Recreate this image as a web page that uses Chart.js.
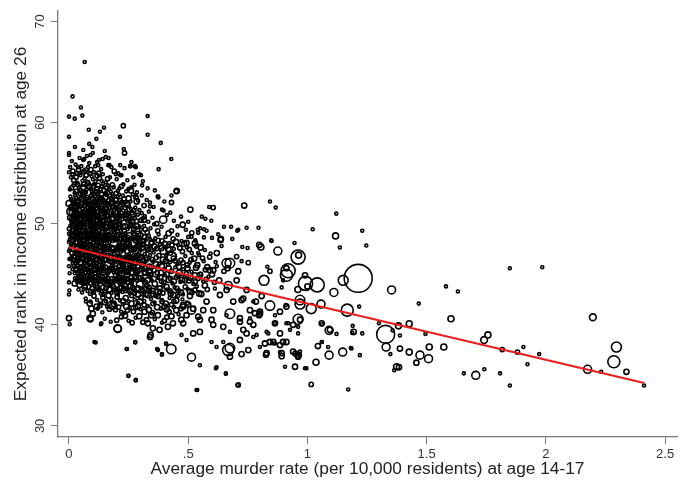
<!DOCTYPE html>
<html><head><meta charset="utf-8">
<script src="https://cdn.jsdelivr.net/npm/chart.js@4/dist/chart.umd.min.js"></script>
<style>html,body{margin:0;padding:0;background:#fff}#c{display:block}</style>
</head><body>
<canvas id="c" width="691" height="482"></canvas>
<script>
// Axis ticks and titles
const xTicks = [0, 0.5, 1, 1.5, 2, 2.5];
const xTickLabels = ['0', '.5', '1', '1.5', '2', '2.5'];
const yTicks = [30, 40, 50, 60, 70];
const yTickLabels = ['30', '40', '50', '60', '70'];
const xTitle = 'Average murder rate (per 10,000 residents) at age 14-17';
const yTitle = 'Expected rank in income distribution at age 26';

// Fitted line (end points)
const fitMurderRate = [0, 2.412];
const fitRank = [47.67, 34.24];

// Counties: [murder rate, expected rank, population weight]
const countiesTop = [
[0.066,66.0,1],[0.015,62.6,1],[0.05,61.5,1],[0.0,60.6,1],[0.024,60.4,1],[0.056,60.7,1],[0.33,60.65,1],[0.228,59.7,2],[0.083,59.3,1],[0.147,59.5,1],
[0.13,59.1,1],[0.0,58.6,1],[0.115,58.4,1],[0.214,58.6,1],[0.33,58.8,1],[0.385,58.0,1],[0.085,57.9,1],[0.098,57.6,1],[0.025,57.6,1],[0.06,57.3,1],
[0.23,57.4,1],[0.233,57.0,2],[0.0,57.0,1],[0.0,56.8,1],[0.429,56.4,1],[0.075,56.7,1],[0.064,56.4,1],[0.154,56.6,1],[0.126,56.3,1],[0.259,55.7,1],
[0.277,55.7,1],[0.215,55.8,1],[0.17,55.8,1],[0.376,55.4,1],[0.0,55.1,1],[0.033,55.0,1],[0.046,55.0,1],[0.207,55.0,1],[0.22,54.8,1],[0.295,54.9,1],
[0.43,52.8,1],[0.45,53.2,2],[0.43,52.1,2],[0.374,52.7,1],[0.307,53.8,1],[0.283,52.6,1],[0.509,51.4,3],[0.588,51.65,1],[0.605,51.6,2],[0.735,51.8,3],
[0.557,50.7,1],[0.572,50.5,1],[0.597,50.3,1],[0.54,49.4,1],[0.567,49.45,1],[0.65,49.7,1],[0.68,49.7,1],[0.71,49.4,1],[0.745,49.6,1],[0.637,48.5,3],
[0.685,48.5,1],[0.477,49.9,3],[0.397,51.3,1],[0.34,51.7,1],[0.314,50.4,3],[0.395,50.4,6],[0.418,49.05,3],[0.141,56.4,1],[0.166,56.5,1],[0.09,56.8,1],
[0.06,56.3,1],[0.085,56.0,1],[0.123,55.8,1],[0.165,55.8,1],[0.28,55.6,1],[0.256,55.7,1],[0.197,54.9,1],[0.302,54.8,1],[0.26,53.3,3],[0.452,53.25,3],
[0.326,52.35,1],[0.372,52.7,1],[0.284,52.2,3],[0.0,52.0,4],[0.01,51.2,9],[0.025,50.85,6]
];

const countiesHigh = [
[0.012,56.2,1],[0.038,55.6,1],[0.07,55.3,2],[0.105,55.1,1],[0.118,56.1,1],[0.135,55.4,1],[0.178,55.6,1],[0.19,55.2,2],[0.233,55.5,1],[0.262,56.1,1],
[0.045,56.5,1],[0.1,57.0,1],[0.15,57.2,1],
[0.008,54.6,1],[0.02,54.3,2],[0.048,54.8,1],[0.066,54.5,1],[0.078,54.1,2],[0.095,54.7,1],[0.112,54.2,1],[0.128,54.5,2],[0.142,54.9,1],[0.155,54.1,1],
[0.172,54.6,1],[0.2,54.4,1],[0.215,54.8,1],[0.245,54.3,1],[0.27,54.6,1],[0.31,54.2,1],[0.088,54.95,1],[0.035,54.05,1],
[0.004,53.4,1],[0.018,53.8,1],[0.03,53.2,2],[0.042,53.6,1],[0.055,53.1,1],[0.062,53.9,2],[0.074,53.4,1],[0.085,53.7,3],[0.096,53.2,1],[0.105,53.9,1],
[0.117,53.5,2],[0.125,53.1,1],[0.138,53.7,1],[0.148,53.3,2],[0.163,53.8,1],[0.175,53.2,1],[0.188,53.6,1],[0.198,53.0,2],[0.212,53.5,1],[0.228,53.9,1],
[0.24,53.2,1],[0.262,53.6,1],[0.285,53.1,1],[0.33,53.5,1],[0.36,53.3,1],[0.098,53.0,1],[0.068,53.05,1],[0.155,53.05,1],
[0.006,52.7,1],[0.015,52.3,2],[0.026,52.8,1],[0.036,52.1,3],[0.047,52.5,1],[0.058,52.9,2],[0.064,52.2,1],[0.076,52.6,2],[0.083,52.05,1],[0.092,52.8,1],
[0.101,52.35,3],[0.11,52.7,1],[0.119,52.1,2],[0.127,52.5,1],[0.136,52.9,2],[0.145,52.2,1],[0.153,52.6,3],[0.162,52.05,1],[0.171,52.8,1],[0.18,52.4,2],
[0.192,52.1,1],[0.204,52.7,1],[0.215,52.3,2],[0.226,52.8,1],[0.238,52.15,1],[0.25,52.5,3],[0.268,52.9,1],[0.29,52.3,1],[0.305,52.8,1],[0.34,52.1,1],
[0.375,52.6,1],[0.4,52.2,1],[0.045,52.95,1],[0.122,52.95,1],[0.185,52.95,1],
[0.005,55.6,1],[0.016,55.2,2],[0.028,55.85,1],[0.04,55.35,2],[0.052,55.7,1],[0.063,55.15,2],[0.08,55.6,1],[0.092,55.35,2],[0.11,55.7,1],[0.125,55.0,2],
[0.015,54.9,1],[0.03,54.6,2],[0.057,54.25,1],[0.072,54.8,2],[0.1,54.4,1],[0.118,54.75,2],[0.137,54.25,1],[0.162,54.45,2]
];

const countiesCoreUpper = [
[0.004,51.5,1],[0.012,51.1,3],[0.022,51.8,1],[0.03,51.3,2],[0.04,51.7,1],[0.05,51.05,2],[0.057,51.5,1],[0.066,51.85,3],[0.073,51.2,1],[0.081,51.6,2],
[0.088,51.1,1],[0.096,51.75,1],[0.103,51.35,2],[0.111,51.9,1],[0.118,51.15,3],[0.126,51.6,1],[0.133,51.3,2],[0.141,51.8,1],[0.149,51.05,1],[0.157,51.5,2],
[0.165,51.85,1],[0.173,51.2,3],[0.181,51.65,1],[0.19,51.3,1],[0.199,51.8,2],[0.209,51.1,1],[0.219,51.55,1],[0.229,51.9,2],[0.24,51.25,1],[0.252,51.7,1],
[0.265,51.1,2],[0.278,51.6,1],[0.295,51.35,1],[0.315,51.8,2],[0.335,51.2,1],[0.355,51.65,1],[0.39,51.4,1],[0.425,51.1,1],[0.016,51.95,1],[0.094,51.45,1],
[0.145,51.45,1],[0.2,51.45,1],[0.26,51.45,1],
[0.003,50.6,2],[0.01,50.2,1],[0.019,50.8,2],[0.027,50.35,1],[0.034,50.9,3],[0.042,50.1,1],[0.049,50.55,2],[0.056,50.95,1],[0.063,50.3,1],[0.07,50.7,3],
[0.077,50.15,1],[0.084,50.5,2],[0.091,50.9,1],[0.098,50.25,1],[0.105,50.65,2],[0.112,50.05,1],[0.119,50.45,3],[0.126,50.85,1],[0.133,50.2,1],[0.14,50.6,2],
[0.148,50.95,1],[0.156,50.35,1],[0.164,50.75,2],[0.172,50.1,1],[0.18,50.5,3],[0.188,50.9,1],[0.197,50.25,1],[0.206,50.65,2],[0.215,50.1,1],[0.224,50.45,1],
[0.233,50.85,2],[0.243,50.3,1],[0.254,50.7,1],[0.265,50.15,3],[0.277,50.55,1],[0.289,50.9,1],[0.302,50.35,2],[0.318,50.75,1],[0.333,50.2,1],[0.35,50.6,1],
[0.368,50.0,2],[0.41,50.85,1],[0.44,50.3,1],[0.47,50.7,1],[0.5,50.2,1],[0.06,50.05,1],[0.16,50.0,1],
[0.002,49.5,2],[0.009,49.1,1],[0.017,49.8,3],[0.024,49.3,1],[0.031,49.65,2],[0.038,49.05,1],[0.045,49.45,2],[0.052,49.9,1],[0.059,49.2,3],[0.066,49.6,1],
[0.073,49.0,1],[0.08,49.35,2],[0.087,49.75,1],[0.094,49.15,1],[0.101,49.55,3],[0.108,49.95,1],[0.115,49.25,1],[0.122,49.65,2],[0.129,49.05,1],[0.136,49.45,1],
[0.143,49.85,2],[0.151,49.2,1],[0.159,49.6,3],[0.167,49.0,1],[0.175,49.4,1],[0.183,49.8,2],[0.191,49.15,1],[0.2,49.55,1],[0.209,49.95,2],[0.218,49.3,1],
[0.227,49.7,3],[0.236,49.05,1],[0.246,49.45,1],[0.256,49.85,2],[0.267,49.2,1],[0.278,49.6,1],[0.29,49.0,3],[0.302,49.4,1],[0.315,49.8,1],[0.328,49.15,2],
[0.342,49.55,1],[0.357,49.95,1],[0.372,49.3,2],[0.388,49.7,1],[0.43,49.3,2],[0.455,49.75,1],[0.49,49.4,1],[0.515,49.1,2],[0.55,49.55,1],[0.095,49.45,1],
[0.205,49.25,1]
];

const countiesCoreMiddle = [
[0.003,48.4,1],[0.011,48.8,2],[0.019,48.15,1],[0.027,48.55,3],[0.035,48.95,1],[0.043,48.3,1],[0.05,48.7,2],[0.057,48.05,1],[0.064,48.45,3],[0.071,48.85,1],
[0.078,48.2,1],[0.085,48.6,2],[0.092,48.0,1],[0.099,48.4,1],[0.106,48.8,3],[0.113,48.15,1],[0.12,48.5,2],[0.127,48.9,1],[0.134,48.25,1],[0.141,48.65,2],
[0.148,48.05,1],[0.155,48.45,3],[0.162,48.85,1],[0.17,48.2,1],[0.178,48.6,2],[0.186,48.95,1],[0.194,48.35,1],[0.202,48.75,2],[0.21,48.1,1],[0.219,48.5,3],
[0.228,48.9,1],[0.237,48.25,1],[0.246,48.65,2],[0.256,48.05,1],[0.266,48.45,1],[0.276,48.85,3],[0.287,48.2,1],[0.298,48.6,1],[0.31,48.0,2],[0.322,48.4,1],
[0.335,48.8,1],[0.348,48.15,3],[0.362,48.55,1],[0.376,48.95,1],[0.39,48.3,2],[0.405,48.7,1],[0.42,48.1,1],[0.437,48.5,2],[0.455,48.9,1],[0.472,48.3,1],
[0.5,48.7,1],[0.53,48.35,1],[0.6,48.6,1],[0.16,48.4,1],[0.25,48.4,1],
[0.004,47.5,1],[0.012,47.1,2],[0.02,47.8,1],[0.028,47.3,1],[0.036,47.65,3],[0.044,47.05,1],[0.052,47.45,2],[0.06,47.85,1],[0.068,47.2,1],[0.076,47.6,3],
[0.084,47.0,1],[0.092,47.4,2],[0.1,47.8,1],[0.108,47.15,1],[0.116,47.55,2],[0.124,47.95,1],[0.132,47.3,3],[0.14,47.7,1],[0.148,47.05,1],[0.156,47.45,2],
[0.164,47.85,1],[0.172,47.2,1],[0.18,47.6,3],[0.189,47.0,1],[0.198,47.4,2],[0.207,47.8,1],[0.216,47.15,1],[0.225,47.55,2],[0.234,47.95,1],[0.243,47.3,3],
[0.253,47.7,1],[0.263,47.05,1],[0.273,47.45,2],[0.284,47.85,1],[0.295,47.2,1],[0.306,47.6,3],[0.318,47.0,1],[0.33,47.4,2],[0.342,47.8,1],[0.355,47.15,1],
[0.368,47.55,2],[0.382,47.95,1],[0.396,47.3,5],[0.41,47.7,1],[0.425,47.1,2],[0.44,47.5,1],[0.458,47.9,1],[0.476,47.25,2],[0.495,47.65,1],[0.515,47.1,1],
[0.57,47.4,1],[0.64,47.8,1],[0.11,47.5,1],[0.2,47.5,1],
[0.008,46.5,1],[0.016,46.1,1],[0.025,46.8,2],[0.033,46.35,1],[0.041,46.9,1],[0.049,46.2,3],[0.057,46.6,1],[0.065,46.05,1],[0.073,46.45,2],[0.081,46.85,1],
[0.089,46.25,3],[0.097,46.65,1],[0.105,46.05,1],[0.113,46.5,2],[0.121,46.9,1],[0.129,46.3,1],[0.137,46.7,3],[0.145,46.1,1],[0.153,46.5,2],[0.161,46.9,1],
[0.169,46.25,1],[0.178,46.65,3],[0.187,46.05,1],[0.196,46.45,2],[0.205,46.85,1],[0.214,46.2,1],[0.223,46.6,2],[0.232,46.0,1],[0.241,46.4,3],[0.251,46.8,1],
[0.261,46.15,1],[0.271,46.55,2],[0.282,46.95,1],[0.293,46.3,1],[0.304,46.7,3],[0.316,46.1,1],[0.328,46.5,2],[0.34,46.9,1],[0.353,46.25,1],[0.366,46.65,2],
[0.38,46.05,1],[0.394,46.45,3],[0.408,46.85,1],[0.423,46.2,1],[0.43,46.75,11],[0.438,46.6,2],[0.454,46.0,1],[0.47,46.4,2],[0.488,46.8,1],[0.506,46.15,1],
[0.525,46.55,3],[0.545,46.9,1],[0.565,46.3,1],[0.59,46.7,2],[0.615,46.2,1],[0.14,46.45,1],[0.255,46.45,1]
];

const countiesCoreLower = [
[0.015,45.5,1],[0.024,45.1,1],[0.033,45.8,2],[0.042,45.3,1],[0.05,45.7,3],[0.058,45.05,1],[0.066,45.45,1],[0.074,45.85,2],[0.082,45.2,1],[0.09,45.6,3],
[0.098,45.0,1],[0.106,45.4,2],[0.114,45.8,1],[0.122,45.15,1],[0.13,45.55,3],[0.138,45.95,1],[0.146,45.3,1],[0.154,45.7,2],[0.162,45.05,1],[0.17,45.45,3],
[0.179,45.85,1],[0.188,45.2,1],[0.197,45.6,2],[0.206,45.0,1],[0.215,45.4,3],[0.224,45.8,1],[0.233,45.15,1],[0.243,45.55,2],[0.253,45.95,1],[0.263,45.3,5],
[0.274,45.7,1],[0.285,45.05,1],[0.296,45.45,2],[0.308,45.85,1],[0.32,45.2,3],[0.332,45.6,1],[0.345,45.0,1],[0.358,45.4,2],[0.372,45.8,1],[0.386,45.15,3],
[0.4,45.55,1],[0.415,45.95,1],[0.43,45.3,2],[0.446,45.7,1],[0.462,45.1,4],[0.479,45.5,1],[0.496,45.9,2],[0.514,45.25,1],[0.533,45.65,3],[0.552,45.05,1],
[0.572,45.45,2],[0.62,45.8,1],[0.65,45.3,2],
[0.025,44.6,1],[0.035,44.2,1],[0.045,44.85,2],[0.055,44.4,1],[0.064,44.05,1],[0.072,44.6,3],[0.08,44.25,1],[0.088,44.9,1],[0.096,44.45,2],[0.104,44.1,1],
[0.112,44.7,3],[0.12,44.3,1],[0.128,44.95,1],[0.136,44.5,2],[0.144,44.15,1],[0.152,44.75,3],[0.161,44.35,1],[0.17,44.0,1],[0.179,44.55,2],[0.188,44.2,1],
[0.197,44.85,3],[0.206,44.4,1],[0.215,44.05,1],[0.224,44.65,2],[0.234,44.3,1],[0.244,44.9,3],[0.254,44.45,1],[0.264,44.1,1],[0.275,44.7,2],[0.286,44.35,1],
[0.297,44.0,5],[0.309,44.55,1],[0.321,44.2,2],[0.334,44.8,1],[0.347,44.4,1],[0.36,44.05,3],[0.374,44.65,1],[0.388,44.3,2],[0.403,44.9,1],[0.418,44.45,3],
[0.434,44.1,1],[0.45,44.7,2],[0.467,44.25,1],[0.485,44.85,1],[0.503,44.4,3],[0.522,44.05,1],[0.542,44.6,2],[0.563,44.3,1],[0.585,44.75,1],[0.61,44.2,2],
[0.04,43.5,1],[0.055,43.2,1],[0.068,43.8,2],[0.078,43.35,1],[0.088,43.05,1],[0.097,43.6,2],[0.106,43.25,1],[0.115,43.9,3],[0.124,43.45,1],[0.133,43.1,1],
[0.142,43.7,2],[0.151,43.3,1],[0.16,43.95,1],[0.169,43.5,3],[0.178,43.15,1],[0.187,43.75,2],[0.196,43.4,1],[0.205,43.0,1],[0.215,43.6,3],[0.225,43.25,1],
[0.235,43.85,2],[0.245,43.5,1],[0.256,43.1,1],[0.267,43.7,2],[0.278,43.35,1],[0.29,43.0,3],[0.302,43.6,1],[0.314,43.2,1],[0.327,43.85,2],[0.34,43.45,1],
[0.353,43.05,3],[0.367,43.65,1],[0.381,43.3,2],[0.396,43.9,1],[0.411,43.5,1],[0.427,43.1,3],[0.443,43.7,1],[0.46,43.35,2],[0.478,43.0,1],[0.497,43.55,1],
[0.516,43.2,2],[0.536,43.8,1],
[0.07,42.6,1],[0.09,42.3,1],[0.105,42.85,2],[0.118,42.45,1],[0.13,42.1,1],[0.142,42.7,2],[0.154,42.35,1],[0.166,42.9,3],[0.178,42.55,1],[0.19,42.2,1],
[0.202,42.75,2],[0.214,42.4,1],[0.226,42.05,1],[0.238,42.65,3],[0.25,42.3,1],[0.263,42.9,2],[0.276,42.5,1],[0.289,42.15,1],[0.302,42.7,2],[0.316,42.35,1],
[0.33,42.95,3],[0.344,42.55,1],[0.359,42.2,1],[0.374,42.8,2],[0.39,42.45,1],[0.406,42.1,3],[0.422,42.65,1],[0.44,42.3,2],[0.458,42.85,1],[0.476,42.5,1],
[0.495,42.15,2],
[0.12,41.6,1],[0.14,41.25,1],[0.16,41.8,1],[0.195,41.5,2],[0.23,41.15,1],[0.255,41.65,1],[0.27,41.3,2],[0.3,41.55,1],[0.33,41.85,1],[0.35,41.2,2],
[0.385,41.6,1],[0.42,41.3,2],[0.44,41.75,1],[0.46,41.05,1],
[0.15,40.6,1],[0.175,40.3,1],[0.22,40.8,2],[0.25,40.4,1],[0.28,40.7,1],[0.31,40.25,2],[0.36,40.55,1],[0.39,40.2,1],[0.41,40.75,2],
[0.0,49.0,1],[0.0,48.2,1],[0.0,47.3,1],[0.002,46.5,1],[0.0,45.8,1],[0.003,45.1,1],[0.0,44.2,1],[0.002,43.4,1]
];

const countiesCoreExtra = [
[0.011,53.55,2],[0.024,53.05,1],[0.037,53.85,2],[0.049,53.35,1],[0.06,53.6,3],[0.071,53.15,1],[0.081,53.95,2],[0.091,53.45,1],[0.102,53.7,2],[0.113,53.25,1],
[0.122,53.8,2],[0.133,53.4,1],[0.143,53.95,1],[0.158,53.55,2],[0.169,53.4,1],[0.182,53.85,2],[0.205,53.25,1],[0.22,53.7,2],[0.25,53.45,1],[0.275,53.85,1],
[0.009,52.45,1],[0.021,52.05,2],[0.031,52.6,1],[0.041,52.25,2],[0.053,52.75,1],[0.07,52.35,3],[0.087,52.55,1],[0.097,52.1,2],[0.106,52.95,1],[0.114,52.4,2],
[0.131,52.65,1],[0.14,52.4,2],[0.158,52.85,1],[0.167,52.3,2],[0.186,52.65,1],[0.197,52.35,2],[0.21,52.9,1],[0.232,52.45,2],[0.258,52.2,1],[0.28,52.65,2],
[0.008,51.7,2],[0.018,51.35,1],[0.026,51.05,2],[0.035,51.55,1],[0.045,51.3,2],[0.053,51.75,1],[0.062,51.1,2],[0.069,51.45,1],[0.077,51.95,2],[0.085,51.35,1],
[0.092,51.05,2],[0.1,51.6,1],[0.107,51.15,2],[0.115,51.5,1],[0.122,51.85,2],[0.129,51.1,1],[0.137,51.55,2],[0.153,51.25,1],[0.169,51.55,2],[0.185,51.0,1],
[0.195,51.6,2],[0.213,51.35,1],[0.235,51.6,2],[0.247,51.05,1],[0.272,51.3,2],[0.305,51.05,1],
[0.007,50.45,1],[0.015,50.05,2],[0.023,50.6,1],[0.031,50.15,2],[0.038,50.7,1],[0.046,50.35,2],[0.053,50.15,1],[0.059,50.8,2],[0.066,50.5,1],[0.074,50.9,2],
[0.081,50.3,1],[0.088,50.7,2],[0.095,50.05,1],[0.102,50.45,2],[0.109,50.85,1],[0.116,50.25,2],[0.123,50.65,1],[0.13,50.45,2],[0.137,50.05,1],[0.145,50.35,2],
[0.152,50.75,1],[0.168,50.45,2],[0.185,50.2,1],[0.202,50.5,2],[0.219,50.8,1],[0.238,50.55,2],[0.26,50.45,1],[0.283,50.25,2],[0.31,50.55,1],
[0.006,49.8,1],[0.013,49.35,2],[0.02,49.05,1],[0.028,49.5,2],[0.035,49.85,1],[0.042,49.25,2],[0.049,49.7,1],[0.056,49.4,2],[0.063,49.9,1],[0.07,49.3,2],
[0.077,49.65,1],[0.084,49.05,2],[0.091,49.55,1],[0.098,49.85,2],[0.105,49.2,1],[0.112,49.6,2],[0.119,49.95,1],[0.126,49.35,2],[0.133,49.75,1],[0.14,49.15,2],
[0.155,49.45,1],[0.171,49.7,2],[0.187,49.35,1],[0.196,49.85,2],[0.214,49.6,1],[0.232,49.3,2],[0.251,49.65,1],[0.272,49.45,2],[0.296,49.7,1],[0.32,49.45,2],
[0.007,48.65,1],[0.015,48.35,2],[0.023,48.95,1],[0.031,48.2,2],[0.039,48.6,1],[0.047,48.05,2],[0.054,48.5,1],[0.061,48.8,2],[0.068,48.15,1],[0.075,48.55,2],
[0.082,48.9,1],[0.089,48.3,2],[0.096,48.7,1],[0.103,48.1,2],[0.11,48.55,1],[0.117,48.95,2],[0.124,48.35,1],[0.131,48.75,2],[0.138,48.05,1],[0.145,48.45,2],
[0.152,48.8,1],[0.166,48.5,2],[0.182,48.3,1],[0.198,48.55,2],[0.215,48.8,1],[0.232,48.45,2],[0.251,48.3,1],[0.271,48.65,2],[0.293,48.4,1],[0.316,48.7,2],
[0.341,48.45,1],
[0.008,47.85,1],[0.016,47.45,2],[0.024,47.05,1],[0.032,47.6,2],[0.04,47.25,1],[0.048,47.85,2],[0.056,47.15,1],[0.064,47.55,2],[0.072,47.9,1],[0.08,47.3,2],
[0.088,47.75,1],[0.096,47.1,2],[0.104,47.45,1],[0.112,47.85,2],[0.12,47.25,1],[0.128,47.65,2],[0.136,47.05,1],[0.144,47.4,2],[0.152,47.75,1],[0.168,47.5,2],
[0.185,47.3,1],[0.203,47.6,2],[0.22,47.35,1],[0.238,47.7,2],[0.258,47.4,1],[0.279,47.6,2],[0.3,47.4,1],[0.324,47.7,2],[0.348,47.35,1],
[0.012,46.75,1],[0.02,46.4,2],[0.029,46.05,1],[0.037,46.6,2],[0.045,46.45,1],[0.053,46.9,2],[0.061,46.3,1],[0.069,46.75,2],[0.077,46.15,1],[0.085,46.55,2],
[0.093,46.9,1],[0.101,46.35,2],[0.109,46.75,1],[0.117,46.15,2],[0.125,46.55,1],[0.133,46.9,2],[0.141,46.35,1],[0.149,46.8,2],[0.165,46.45,1],[0.182,46.3,2],
[0.2,46.6,1],[0.218,46.4,2],[0.236,46.75,1],[0.256,46.3,2],[0.276,46.7,1],[0.298,46.5,2],[0.322,46.3,1],
[0.019,45.85,1],[0.028,45.45,2],[0.037,45.05,1],[0.046,45.55,2],[0.054,45.3,1],[0.062,45.75,2],[0.07,45.15,1],[0.078,45.5,2],[0.086,45.9,1],[0.094,45.35,2],
[0.102,45.7,1],[0.11,45.1,2],[0.118,45.5,1],[0.126,45.9,2],[0.134,45.3,1],[0.142,45.65,2],[0.158,45.35,1],[0.175,45.6,2],[0.192,45.4,1],[0.21,45.75,2],
[0.228,45.5,1],[0.248,45.25,2],[0.268,45.55,1],[0.29,45.75,2],[0.314,45.45,1],[0.338,45.25,2],
[0.03,44.4,1],[0.04,44.7,2],[0.05,44.15,1],[0.06,44.65,2],[0.068,44.3,1],[0.076,44.85,2],[0.084,44.5,1],[0.092,44.15,2],[0.1,44.75,1],[0.108,44.45,2],
[0.116,44.05,1],[0.124,44.6,2],[0.132,44.25,1],[0.14,44.8,2],[0.156,44.5,1],[0.174,44.25,2],[0.192,44.6,1],[0.21,44.25,2],[0.229,44.5,1],[0.249,44.2,2],
[0.27,44.45,1],[0.292,44.7,2],[0.315,44.4,1],
[0.062,43.55,1],[0.083,43.75,2],[0.101,43.35,1],[0.119,43.65,2],[0.137,43.3,1],[0.155,43.6,2],[0.173,43.85,1],[0.191,43.55,2],[0.21,43.3,1],[0.23,43.6,2],
[0.25,43.3,1],[0.272,43.55,2],[0.296,43.3,1],[0.32,43.6,2]
];

const countiesCoreDense = [
[0.034,52.2,2],[0.052,51.9,3],[0.071,52.15,2],[0.089,51.85,3],[0.108,52.2,2],[0.126,51.95,3],[0.144,52.25,2],[0.162,51.9,3],[0.18,52.15,2],[0.2,51.95,3],
[0.222,52.1,2],[0.245,51.85,3],
[0.028,51.0,3],[0.047,50.75,2],[0.066,51.05,3],[0.084,50.8,2],[0.103,51.0,3],[0.121,50.75,2],[0.14,51.05,3],[0.158,50.8,2],[0.177,50.95,3],[0.196,50.75,2],
[0.218,51.0,3],[0.242,50.8,2],[0.268,50.95,3],
[0.022,49.95,2],[0.041,49.7,3],[0.06,50.0,2],[0.079,49.75,3],[0.098,50.0,2],[0.117,49.75,3],[0.136,49.95,2],[0.155,49.7,3],[0.174,49.95,2],[0.193,49.7,3],
[0.213,49.95,2],[0.236,49.75,3],[0.26,49.95,2],[0.285,49.75,3],
[0.018,48.85,3],[0.037,48.6,2],[0.056,48.85,3],[0.075,48.6,2],[0.094,48.85,3],[0.113,48.6,2],[0.132,48.85,3],[0.151,48.6,2],[0.17,48.85,3],[0.189,48.6,2],
[0.209,48.85,3],[0.23,48.6,2],[0.252,48.85,3],[0.276,48.6,2],[0.3,48.85,3],
[0.016,47.75,2],[0.035,47.5,3],[0.054,47.75,2],[0.073,47.5,3],[0.092,47.75,2],[0.111,47.5,3],[0.13,47.75,2],[0.149,47.5,3],[0.168,47.75,2],[0.187,47.5,3],
[0.207,47.75,2],[0.228,47.5,3],[0.25,47.75,2],[0.272,47.5,3],[0.296,47.75,2],
[0.02,46.65,3],[0.039,46.4,2],[0.058,46.65,3],[0.077,46.4,2],[0.096,46.65,3],[0.115,46.4,2],[0.134,46.65,3],[0.153,46.4,2],[0.172,46.65,3],[0.191,46.4,2],
[0.211,46.65,3],[0.232,46.4,2],[0.254,46.65,3],[0.277,46.4,2],[0.3,46.65,3],
[0.03,45.55,2],[0.049,45.3,3],[0.068,45.55,2],[0.087,45.3,3],[0.106,45.55,2],[0.125,45.3,3],[0.144,45.55,2],[0.163,45.3,3],[0.182,45.55,2],[0.201,45.3,3],
[0.221,45.55,2],[0.242,45.3,3],[0.264,45.55,2],[0.287,45.3,3],
[0.048,44.55,3],[0.067,44.3,2],[0.086,44.55,3],[0.105,44.3,2],[0.124,44.55,3],[0.143,44.3,2],[0.162,44.55,3],[0.181,44.3,2],[0.2,44.55,3],[0.22,44.3,2],
[0.241,44.55,3],[0.262,44.3,2]
];

const countiesMidExtra = [
[0.212,48.2,2],[0.229,47.75,3],[0.247,48.1,2],[0.262,47.55,3],[0.28,48.3,2],[0.296,47.85,3],[0.313,48.25,2],[0.329,47.6,3],[0.345,48.1,2],[0.359,47.75,3],
[0.374,48.35,2],[0.388,47.6,3],[0.402,48.05,2],[0.417,47.45,3],[0.432,47.9,2],[0.449,48.2,3],[0.465,47.6,2],[0.483,48.0,3],[0.505,47.45,2],[0.535,47.8,2],
[0.208,46.3,3],[0.226,45.9,2],[0.244,46.6,3],[0.259,45.7,2],[0.277,46.2,3],[0.291,46.85,2],[0.309,45.95,3],[0.323,46.65,2],[0.337,45.75,3],[0.35,46.45,2],
[0.364,46.0,3],[0.377,46.85,2],[0.39,45.8,3],[0.404,46.3,2],[0.418,45.6,3],[0.445,46.35,2],[0.461,45.75,3],[0.478,46.15,2],[0.497,45.6,3],[0.512,46.45,2],
[0.538,45.9,3],[0.56,46.6,2],[0.58,45.7,3],
[0.212,45.05,2],[0.23,44.55,3],[0.248,45.2,2],[0.262,44.65,3],[0.28,45.15,2],[0.3,44.6,3],[0.316,45.1,2],[0.33,44.4,3],[0.343,44.95,2],[0.356,44.55,3],
[0.37,45.15,2],[0.383,44.7,3],[0.397,44.2,2],[0.41,45.0,3],[0.425,44.6,2],[0.44,44.3,3],[0.457,44.85,2],[0.474,44.45,3],[0.492,45.05,2],[0.51,44.65,3],
[0.53,44.25,2],[0.55,44.95,3],[0.575,44.5,2],[0.6,45.0,3],
[0.2,43.2,2],[0.22,43.75,3],[0.238,43.4,2],[0.258,43.85,3],[0.274,43.15,2],[0.29,43.6,3],[0.308,43.4,2],[0.322,43.05,3],[0.336,43.7,2],[0.35,43.35,3],
[0.365,42.9,2],[0.38,43.6,3],[0.394,43.15,2],[0.409,43.75,3],[0.424,43.35,2],[0.438,42.95,3],[0.453,43.6,2],[0.47,43.2,3],[0.488,43.75,2],[0.507,42.85,3],
[0.528,43.45,2],[0.555,43.05,3],[0.58,43.5,2],
[0.13,41.9,2],[0.15,42.25,3],[0.17,41.55,2],[0.188,42.05,3],[0.208,41.75,2],[0.227,42.35,3],[0.245,41.45,2],[0.262,42.1,3],[0.28,41.7,2],[0.298,42.3,3],
[0.316,41.95,2],[0.335,41.5,3],[0.352,42.1,2],[0.37,41.75,3],[0.39,42.3,2],[0.41,41.55,3],[0.43,42.0,2],[0.45,42.4,3],[0.47,41.6,2],[0.5,42.0,3],
[0.2,40.45,2],[0.235,40.9,3],[0.265,40.2,2],[0.295,40.85,3],[0.325,40.5,2],[0.345,40.95,3],[0.4,40.4,2],[0.43,40.85,3]
];

const countiesBelow = [
[0.0,40.65,3],[0.003,40.05,1],[0.0,43.0,1],[0.107,38.3,1],[0.09,40.55,3],[0.136,40.15,1],[0.205,39.6,6],[0.278,38.3,1],[0.243,37.6,1],[0.25,34.95,1],
[0.28,34.55,1],[0.343,39.0,3],[0.373,37.5,1],[0.429,37.6,10],[0.39,37.1,1],[0.408,38.1,1],[0.024,44.1,3],[0.045,43.95,3],[0.059,44.1,1],[0.087,42.1,3],
[0.094,41.6,3],[0.1,41.1,3],[0.143,42.95,1],[0.177,41.95,6],[0.219,41.3,1],[0.24,41.8,3],[0.289,41.8,3],[0.317,41.3,3],[0.331,40.15,3],[0.352,39.65,3],
[0.38,39.5,3],[0.415,39.8,3],[0.436,40.15,3],[0.471,40.5,3],[0.401,41.8,3],[0.373,40.95,3],[0.45,41.45,3],[0.478,41.95,3],[0.071,42.3,1],[0.116,41.8,3],
[0.186,41.9,6],[0.134,40.05,1],[0.37,37.6,1],[0.514,36.8,7],[0.549,36.0,1],[0.616,35.7,1],[0.658,35.2,1],[0.535,33.55,1],[0.71,34.05,2],[0.668,37.5,14]
];

const countiesTail = [
[0.542,49.1,1],[0.577,49.3,1],[0.626,48.95,1],[0.636,48.4,3],[0.706,49.3,1],[0.566,48.65,1],[0.514,48.7,1],[0.493,48.1,3],[0.528,48.05,3],[0.552,47.65,3],
[0.594,47.05,1],[0.727,47.7,1],[0.749,47.6,1],[0.798,47.9,3],[0.85,48.3,1],[0.675,46.1,10],[0.703,46.75,2],[0.724,46.3,1],[0.665,45.6,3],[0.71,45.3,3],
[0.752,46.15,2],[0.832,45.75,1],[0.843,45.3,2],[0.912,45.6,3],[0.99,44.9,3],[1.0,43.8,3],[0.892,43.7,1],[0.898,44.4,1],[0.96,43.5,4],[0.969,42.45,10],
[0.843,41.9,10],[0.808,42.85,3],[0.784,42.3,3],[0.759,41.45,3],[0.78,41.15,3],[0.797,40.95,3],[0.885,41.3,3],[0.91,41.95,1],[0.745,43.45,3],[0.731,42.6,3],
[0.661,43.45,3],[0.633,42.95,3],[0.689,42.3,3],[0.605,41.45,3],[0.661,40.95,1],[0.577,42.3,3],[0.546,43.1,3],[0.507,43.3,3],[0.486,44.4,3],[0.528,44.9,3],
[0.591,45.4,3],[0.63,44.4,3],[0.57,43.9,3],[0.612,43.6,1],[0.703,44.4,3],[0.668,43.9,7],[0.521,41.6,3],[0.493,40.95,3],[0.549,40.5,3],[0.598,40.5,3],
[0.717,40.3,3],[0.773,40.0,3],[0.864,40.15,3],[0.94,40.0,3],[0.542,47.1,1],[0.62,47.1,3],[0.661,46.1,9],[0.605,45.4,3],[0.43,46.75,9],
[0.675,36.85,3],[0.724,37.1,3],[0.752,37.5,3],[0.801,37.8,1],[0.822,38.15,3],[0.843,38.3,3],[0.864,38.15,1],[0.885,38.0,3],[0.912,38.3,3],[0.885,37.3,1],
[0.892,36.9,3],[0.95,37.15,3],[0.961,36.85,3],[0.969,37.35,1],[0.906,35.85,1],[0.948,35.85,3],[0.99,35.7,1],[0.826,37.05,3],[0.619,37.8,1],[0.598,38.3,1],
[0.647,38.3,1],[0.493,38.5,1],[0.472,39.0,1],[0.717,38.5,3],[0.745,39.15,3],[0.787,39.0,1],[0.836,39.15,1],[0.885,39.15,3],[0.92,40.15,1],[0.961,39.8,1],
[0.961,39.15,1],[0.605,40.0,3],[0.647,39.8,3],[0.675,39.3,1],[0.549,39.3,3],[0.521,39.15,3],[0.479,40.15,3],[0.542,40.8,3],[0.563,41.45,3],[0.675,41.1,10],
[0.717,40.65,3],[0.759,40.3,3],[0.801,41.1,3],[0.864,40.95,1],[0.912,41.8,3],[0.479,41.8,3],[0.514,41.45,7],[0.724,42.45,3],[0.773,42.3,1],[0.801,41.3,3],
[0.759,40.65,1],[0.731,39.5,3],[0.773,38.8,1],[0.829,39.3,1],[0.857,38.3,3],[0.898,38.3,3],[0.94,37.35,3],[0.961,37.0,3],[0.892,37.2,3],[0.829,37.2,3],
[0.864,40.15,1],[0.912,40.15,1],[0.927,39.5,1],[1.06,40.15,3],[1.094,39.5,3],[1.122,39.1,1],[1.06,38.3,1],[1.087,37.8,1],[1.185,37.65,1],
[1.3,40.15,1],[1.357,39.45,1],[1.388,38.95,1],[0.969,40.5,3],[0.969,37.0,1]
];

const countiesSparse = [
[0.843,52.2,1],[0.867,51.6,1],[1.121,51.0,1],[1.022,49.45,1],[1.118,48.8,4],[1.23,49.3,1],[1.247,47.85,1],[1.136,47.65,1],[0.795,49.6,1],[0.848,48.35,1],
[0.946,48.1,1],[0.805,47.7,4],[0.876,47.3,7],[0.961,46.7,22],[0.963,46.9,4],[0.919,45.35,22],[0.912,44.9,16],[0.818,44.4,11],[0.992,44.1,22],[1.041,43.95,22],
[1.15,44.4,11],[1.213,44.6,87],[1.111,43.2,7],[1.353,43.45,7],[1.581,43.8,1],[1.631,43.3,1],[1.467,42.1,1],[1.602,40.6,4],[1.167,41.45,16],[1.217,41.8,1],
[0.961,40.55,11],[1.057,42.05,7],[1.016,41.6,11],[0.969,42.05,11],[1.328,39.05,36],[1.33,37.8,7],[1.427,40.1,4],[1.382,39.9,4],[1.511,37.8,4],[1.472,37.0,7],
[1.508,36.65,7],[1.572,37.8,4],[1.427,37.3,4],[1.374,35.85,4],[1.364,35.5,1],[1.656,35.2,1],[1.706,35.0,7],[1.742,35.6,1],[1.171,33.6,1],[1.016,34.1,2],
[1.091,37.0,7],[1.036,36.3,4],[1.148,37.3,7],[1.22,37.0,1],[1.188,39.2,1],[1.23,39.15,1],[1.849,45.6,1],[1.985,45.7,1],[2.197,40.75,5],[1.741,38.5,5],
[1.757,39.0,4],[1.817,37.55,2],[1.881,37.3,2],[1.906,37.8,1],[1.972,37.1,1],[1.923,36.1,1],[2.296,37.8,11],[2.285,36.35,16],[2.175,35.6,7],[2.232,35.35,1],
[2.338,35.35,3],[2.412,34.0,1],[1.808,35.2,1],[1.849,34.0,1],[1.495,39.1,1],[1.388,37.65,3],[1.348,37.1,1],[1.457,36.25,3],[1.384,35.8,3],[1.091,39.45,7],
[1.061,40.05,1],[1.19,39.9,1],[1.194,39.3,3],[1.044,37.9,3],[1.061,38.3,1],[1.182,37.7,1],[0.996,35.7,1],[0.112,38.25,1],[0.204,39.65,6],[0.242,37.6,1],
[0.278,38.25,1],[0.249,34.95,1],[0.28,34.5,1],[0.39,37.05,1],[0.407,38.15,1],[0.34,38.8,3],[0.088,40.65,4],[0.619,35.8,1],[0.658,35.15,1],[0.538,33.55,1],
[0.707,34.05,1],[0.675,37.7,10]
];

const counties = [].concat(countiesTop, countiesHigh, countiesCoreUpper, countiesCoreMiddle, countiesCoreLower, countiesCoreExtra, countiesCoreDense, countiesMidExtra, countiesBelow, countiesTail, countiesSparse);
const murderRate = counties.map(c => c[0]);
const incomeRank = counties.map(c => c[1]);
const popWeight = counties.map(c => c[2]);

const FONT = '"Liberation Sans", Arial, Helvetica, sans-serif';
const markerRadius = w => 1.5 * Math.sqrt(w);

new Chart(document.getElementById('c'), {
  type: 'scatter',
  data: {
    datasets: [
      {
        type: 'line',
        data: fitMurderRate.map((x, i) => ({ x: x, y: fitRank[i] })),
        borderColor: '#ee1c1c',
        borderWidth: 2,
        pointRadius: 0,
        pointHoverRadius: 0,
        fill: false,
        tension: 0,
        order: 0
      },
      {
        data: murderRate.map((x, i) => ({ x: x, y: incomeRank[i] })),
        pointRadius: ctx => markerRadius(popWeight[ctx.dataIndex]),
        pointBorderColor: '#000',
        pointBackgroundColor: 'rgba(0,0,0,0)',
        pointBorderWidth: 1.6,
        order: 1
      }
    ]
  },
  options: {
    responsive: false,
    animation: false,
    devicePixelRatio: 1,
    layout: { autoPadding: false, padding: { left: 0, top: 11, right: 14, bottom: 0 } },
    plugins: { legend: { display: false }, tooltip: { enabled: false } },
    scales: {
      x: {
        type: 'linear',
        min: -0.046,
        max: 2.55,
        afterBuildTicks: s => { s.ticks = xTicks.map(v => ({ value: v })); },
        afterFit: s => { s.height = 45; s.paddingLeft = 0; s.paddingRight = 0; },
        ticks: {
          callback: v => xTickLabels[xTicks.indexOf(v)],
          font: { family: FONT, size: 13 },
          color: '#333',
          padding: 3,
          maxRotation: 0,
          autoSkip: false
        },
        grid: { drawOnChartArea: false, drawTicks: true, tickLength: 7, color: '#7a7a7a', lineWidth: 1 },
        border: { display: true, color: '#7a7a7a', width: 1.3 },
        title: { display: true, text: xTitle, font: { family: FONT, size: 17.3 }, color: '#222', padding: { top: 0, bottom: 2 } }
      },
      y: {
        type: 'linear',
        min: 28.9,
        max: 71.05,
        afterBuildTicks: s => { s.ticks = yTicks.map(v => ({ value: v })); },
        afterFit: s => { s.width = 58; s.paddingTop = 0; s.paddingBottom = 0; },
        ticks: {
          callback: v => yTickLabels[yTicks.indexOf(v)],
          font: { family: FONT, size: 13 },
          color: '#333',
          padding: 3,
          minRotation: 90,
          maxRotation: 90,
          crossAlign: 'center',
          autoSkip: false
        },
        grid: { drawOnChartArea: false, drawTicks: true, tickLength: 7, color: '#7a7a7a', lineWidth: 1 },
        border: { display: true, color: '#7a7a7a', width: 1.3 },
        title: { display: true, text: yTitle, font: { family: FONT, size: 17.3 }, color: '#222', padding: { top: 11, bottom: 0 } }
      }
    }
  }
});
</script>
</body></html>
